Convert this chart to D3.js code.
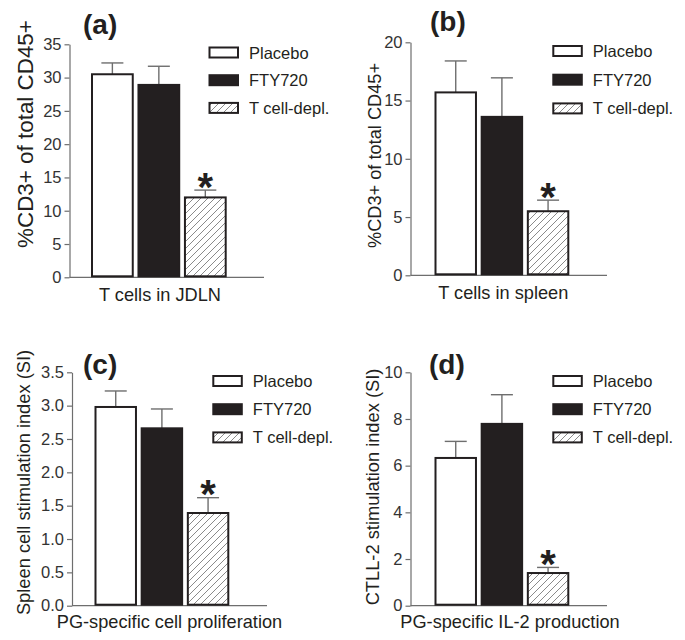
<!DOCTYPE html>
<html><head><meta charset="utf-8">
<script src="https://cdn.jsdelivr.net/npm/d3@7"></script>
<style>
body{margin:0;background:#fff}
svg{display:block;font-family:"Liberation Sans",Arial,Helvetica,sans-serif}
</style>
</head><body>
<svg id="chart" width="685" height="640"></svg>
<script>
// ---------------- data ----------------
const groups = ["Placebo", "FTY720", "T cell-depl."];
const panelLabels = ["(a)", "(b)", "(c)", "(d)"];
const xLabels = ["T cells in JDLN", "T cells in spleen", "PG-specific cell proliferation", "PG-specific IL-2 production"];
const yLabels = ["%CD3+ of total CD45+", "%CD3+ of total CD45+", "Spleen cell stimulation index (SI)", "CTLL-2 stimulation index (SI)"];
const meansA = [30.5, 28.9, 12.0];
const semA   = [1.7, 2.8, 1.1];
const meansB = [15.7, 13.6, 5.5];
const semB   = [2.7, 3.35, 0.95];
const meansC = [2.98, 2.66, 1.39];
const semC   = [0.24, 0.29, 0.23];
const meansD = [6.33, 7.79, 1.40];
const semD   = [0.71, 1.25, 0.24];
const ticksA = [0, 5, 10, 15, 20, 25, 30, 35];
const ticksB = [0, 5, 10, 15, 20];
const ticksC = [0, 0.5, 1.0, 1.5, 2.0, 2.5, 3.0, 3.5];
const ticksD = [0, 2, 4, 6, 8, 10];
const tickFormats = ["d", "d", ".1f", "d"];
const significant = [false, false, true];

// ---------------- layout ----------------
const layouts = [
  {axX:69.5, y0:277.3, yTop:44.3, axEnd:264, barL:91, barR:226.7, tx:83, ty:34, legX:208.5, legY:52.5, legStep:27.7, ylx:33, yly:134, ylSize:22.4, xlx:160, xly:300.7},
  {axX:410.5, y0:275.3, yTop:42.3, axEnd:607, barL:434.5, barR:569.3, tx:430, ty:31, legX:552.3, legY:51, legStep:28.7, ylx:380.5, yly:155.5, ylSize:18.2, xlx:503.3, xly:299.3},
  {axX:72, y0:605.7, yTop:372.3, axEnd:267, barL:94.5, barR:229.3, tx:83, ty:374, legX:212.3, legY:381, legStep:28.2, ylx:30, yly:482.5, ylSize:18.3, xlx:169.5, xly:628},
  {axX:410.5, y0:605.7, yTop:372.3, axEnd:607, barL:434.5, barR:569.3, tx:429, ty:374, legX:552.3, legY:381, legStep:28.2, ylx:379, yly:487, ylSize:18.3, xlx:510, xly:628}
];
const panels = [
  {means: meansA, sem: semA, ticks: ticksA},
  {means: meansB, sem: semB, ticks: ticksB},
  {means: meansC, sem: semC, ticks: ticksC},
  {means: meansD, sem: semD, ticks: ticksD}
];

const TEXT = "#231f20", AXIS = "#6e6e6e", BAR_STROKE = "#231f20";
const fills = ["#ffffff", "#231f20", "url(#hatch)"];

const svg = d3.select("#chart");
const defs = svg.append("defs");
const pat = defs.append("pattern").attr("id", "hatch")
  .attr("patternUnits", "userSpaceOnUse").attr("width", 7).attr("height", 7);
pat.append("rect").attr("width", 7).attr("height", 7).attr("fill", "#fff");
pat.append("path").attr("d", "M-1,1 l2,-2 M0,7 l7,-7 M6,8 l2,-2")
  .attr("stroke", "#8a8a8a").attr("stroke-width", 1);

panels.forEach((p, i) => {
  const L = layouts[i];
  const g = svg.append("g");
  const maxT = p.ticks[p.ticks.length - 1];
  const y = d3.scaleLinear().domain([0, maxT]).range([L.y0, L.yTop]);
  const x = d3.scaleBand().domain(groups).range([L.barL, L.barR]).paddingInner(0.08).paddingOuter(0);

  // y axis
  const yAxis = d3.axisLeft(y).tickValues(p.ticks).tickSize(5).tickSizeOuter(0)
    .tickPadding(3).tickFormat(d3.format(tickFormats[i]));
  const ag = g.append("g").attr("transform", `translate(${L.axX},0)`).call(yAxis);
  ag.select(".domain").attr("stroke", AXIS).attr("stroke-width", 1.2);
  ag.selectAll(".tick line").attr("stroke", AXIS).attr("stroke-width", 1.2);
  ag.selectAll(".tick text").attr("fill", "#333").style("font-size", "16.5px")
    .style("font-family", "'Liberation Sans',Arial,sans-serif");

  // x axis line
  g.append("line").attr("x1", L.axX).attr("x2", L.axEnd).attr("y1", L.y0).attr("y2", L.y0)
    .attr("stroke", AXIS).attr("stroke-width", 1.2);

  // error bars
  groups.forEach((grp, j) => {
    const cx = x(grp) + x.bandwidth() / 2;
    const top = y(p.means[j] + p.sem[j]);
    g.append("line").attr("x1", cx).attr("x2", cx).attr("y1", y(p.means[j])).attr("y2", top)
      .attr("stroke", AXIS).attr("stroke-width", 1.4);
    g.append("line").attr("x1", cx - 11).attr("x2", cx + 11).attr("y1", top).attr("y2", top)
      .attr("stroke", AXIS).attr("stroke-width", 1.4);
    if (significant[j]) {
      g.append("text").attr("x", cx).attr("y", top + 10.5)
        .attr("text-anchor", "middle").attr("font-weight", "bold")
        .attr("font-size", 40).attr("fill", TEXT).text("*");
    }
  });

  // bars
  g.selectAll("rect.bar").data(groups).join("rect").attr("class", "bar")
    .attr("x", d => x(d) + 1).attr("width", x.bandwidth() - 2)
    .attr("y", (d, j) => y(p.means[j])).attr("height", (d, j) => L.y0 - y(p.means[j]) - 1)
    .attr("fill", (d, j) => fills[j]).attr("stroke", BAR_STROKE).attr("stroke-width", 2);

  // title
  g.append("text").attr("x", L.tx).attr("y", L.ty).attr("font-size", 28).attr("font-weight", "bold")
    .attr("fill", TEXT).text(panelLabels[i]);

  // legend
  groups.forEach((grp, j) => {
    const cy = L.legY + j * L.legStep;
    g.append("rect").attr("x", L.legX + 1).attr("y", cy - 5).attr("width", 28.5).attr("height", 10)
      .attr("fill", fills[j]).attr("stroke", BAR_STROKE).attr("stroke-width", 2);
    g.append("text").attr("x", L.legX + 40.5).attr("y", cy + 6).attr("font-size", 16.5)
      .attr("fill", TEXT).text(grp);
  });

  // axis labels
  g.append("text").attr("transform", `translate(${L.ylx},${L.yly}) rotate(-90)`)
    .attr("text-anchor", "middle").attr("font-size", L.ylSize).attr("fill", TEXT).text(yLabels[i]);
  g.append("text").attr("x", L.xlx).attr("y", L.xly).attr("text-anchor", "middle")
    .attr("font-size", 18.2).attr("fill", TEXT).text(xLabels[i]);
});
</script>
</body></html>
